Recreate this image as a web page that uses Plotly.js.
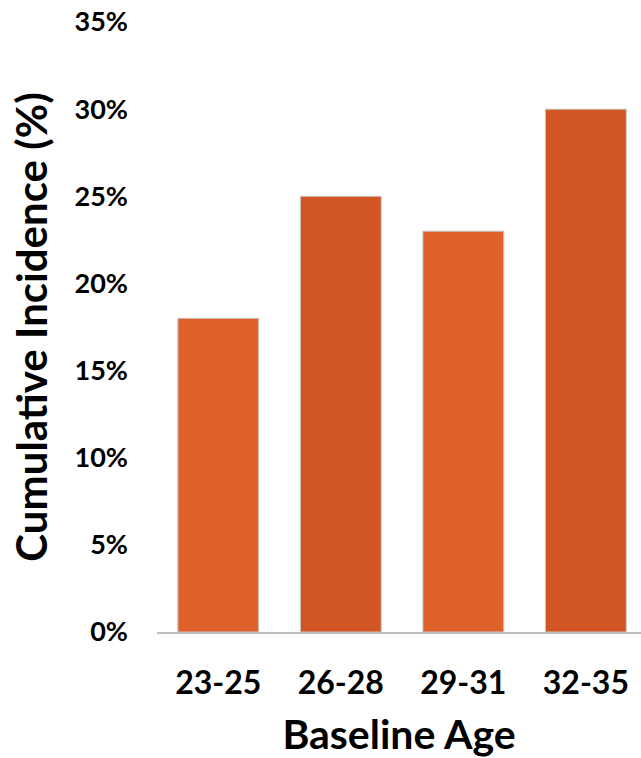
<!DOCTYPE html>
<html><head><meta charset="utf-8">
<script src="https://cdn.plot.ly/plotly-3.0.1.min.js"></script>
<style>html,body{margin:0;padding:0;background:#fff}#chart{width:641px;height:758px}</style>
</head><body><div id="chart"></div>
<script>
const categories = ['23-25', '26-28', '29-31', '32-35'];
const incidence = [0.18, 0.25, 0.23, 0.30];
const barColors = ['#E0602A', '#D25624', '#E0602A', '#D25624'];
const yTickValues = [0, 0.05, 0.10, 0.15, 0.20, 0.25, 0.30, 0.35];

const font = 'Lato, "Open Sans", sans-serif';
Plotly.newPlot('chart', [{
  type: 'bar',
  x: categories,
  y: incidence,
  marker: {color: barColors, line: {color: '#C8C8C8', width: 1}},
  hoverinfo: 'none'
}], {
  width: 641, height: 758,
  margin: {l: 157, r: 0, t: 22, b: 126},
  paper_bgcolor: '#fff', plot_bgcolor: '#fff',
  bargap: 0.34,
  showlegend: false,
  xaxis: {
    type: 'category',
    range: [-0.5, 3.45],
    showline: true, linecolor: '#BFBFBF', linewidth: 2,
    showgrid: false, zeroline: false, ticks: '',
    ticklabelstandoff: 22,
    tickfont: {family: font, size: 32, color: '#000', weight: 'bold'},
    title: {text: '<b>Baseline Age</b>', font: {family: font, size: 41, color: '#000'}, standoff: 26}
  },
  yaxis: {
    range: [0, 0.35],
    tickvals: yTickValues,
    tickformat: '.0%',
    showline: false, showgrid: false, zeroline: false, ticks: '',
    ticklabelstandoff: 28,
    tickfont: {family: font, size: 27, color: '#000', weight: 'bold'},
    title: {text: '<b>Cumulative Incidence (%)</b>', font: {family: font, size: 42, color: '#000'}, standoff: 13}
  }
}, {displayModeBar: false, staticPlot: true});
</script></body></html>
